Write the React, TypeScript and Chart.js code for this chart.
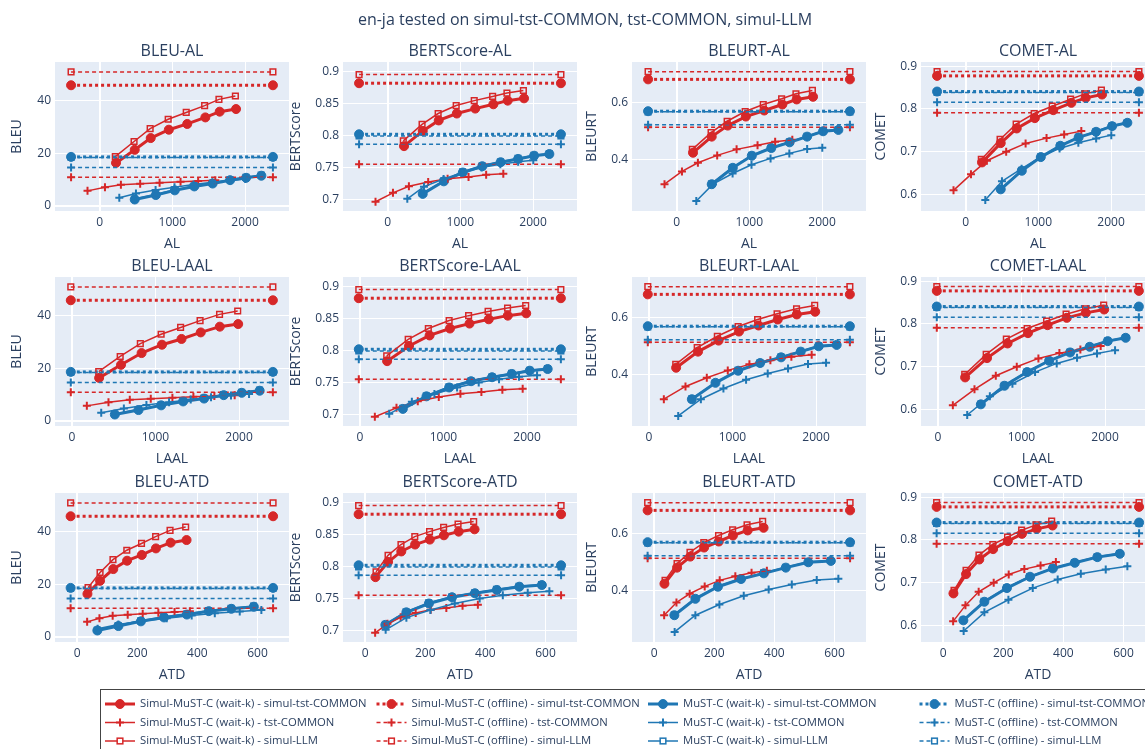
import React, { useEffect, useRef } from 'react';
import { Chart, registerables } from 'chart.js';

Chart.register(...registerables);

// ---------------- DATA ----------------
const MAIN_TITLE = 'en-ja tested on simul-tst-COMMON, tst-COMMON, simul-LLM';
const LATENCY_METRICS = ['AL', 'LAAL', 'ATD'];
const QUALITY_METRICS = ['BLEU', 'BERTScore', 'BLEURT', 'COMET'];

// Simul-MuST-C (wait-k) tested on simul-tst-COMMON
const SIMUL_WAITK_SIMULTST_AL = [226, 483, 703, 952, 1205, 1454, 1651, 1876];
const SIMUL_WAITK_SIMULTST_LAAL = [326, 588, 834, 1078, 1312, 1542, 1770, 1990];
const SIMUL_WAITK_SIMULTST_ATD = [34, 76, 120, 166, 215, 262, 311, 364];
const SIMUL_WAITK_SIMULTST_BLEU = [16.3, 21.3, 25.8, 29.0, 31.2, 33.7, 35.9, 36.9];
const SIMUL_WAITK_SIMULTST_BERTSCORE = [0.7832, 0.8069, 0.8233, 0.8341, 0.8418, 0.8485, 0.8542, 0.8578];
const SIMUL_WAITK_SIMULTST_BLEURT = [0.4226, 0.4798, 0.519, 0.5512, 0.5726, 0.594, 0.6119, 0.6214];
const SIMUL_WAITK_SIMULTST_COMET = [0.6748, 0.72, 0.7543, 0.7785, 0.7972, 0.8143, 0.826, 0.8338];

// Simul-MuST-C (wait-k) tested on tst-COMMON
const SIMUL_WAITK_TST_AL = [-166, 74, 293, 558, 825, 1113, 1355, 1591];
const SIMUL_WAITK_TST_LAAL = [179, 438, 693, 944, 1203, 1454, 1705, 1948];
const SIMUL_WAITK_TST_ATD = [33, 74, 118, 168, 218, 270, 324, 375];
const SIMUL_WAITK_TST_BLEU = [5.6, 7.0, 7.9, 8.3, 8.7, 9.1, 9.4, 9.7];
const SIMUL_WAITK_TST_BERTSCORE = [0.6964, 0.7103, 0.7206, 0.7272, 0.7324, 0.7349, 0.7385, 0.7401];
const SIMUL_WAITK_TST_BLEURT = [0.3107, 0.356, 0.3869, 0.4131, 0.4345, 0.4488, 0.4619, 0.469];
const SIMUL_WAITK_TST_COMET = [0.6094, 0.6468, 0.6787, 0.6998, 0.7193, 0.7317, 0.7403, 0.7481];

// Simul-MuST-C (wait-k) tested on simul-LLM
const SIMUL_WAITK_LLM_AL = [216, 474, 695, 943, 1191, 1444, 1641, 1867];
const SIMUL_WAITK_LLM_LAAL = [321, 578, 819, 1068, 1301, 1534, 1767, 1984];
const SIMUL_WAITK_LLM_ATD = [36, 76, 119, 165, 214, 261, 309, 361];
const SIMUL_WAITK_LLM_BLEU = [18.7, 24.5, 29.4, 33.0, 35.6, 38.2, 40.6, 41.9];
const SIMUL_WAITK_LLM_BERTSCORE = [0.7915, 0.8172, 0.8341, 0.8465, 0.8542, 0.8608, 0.866, 0.8701];
const SIMUL_WAITK_LLM_BLEURT = [0.4345, 0.494, 0.5345, 0.569, 0.594, 0.6143, 0.6321, 0.644];
const SIMUL_WAITK_LLM_COMET = [0.6818, 0.7286, 0.7645, 0.7894, 0.8065, 0.8229, 0.8354, 0.844];

// MuST-C (wait-k) tested on simul-tst-COMMON
const MUSTC_WAITK_SIMULTST_AL = [483, 773, 1034, 1302, 1554, 1794, 2014, 2224];
const MUSTC_WAITK_SIMULTST_LAAL = [514, 797, 1068, 1331, 1582, 1817, 2032, 2247];
const MUSTC_WAITK_SIMULTST_ATD = [67, 137, 212, 289, 365, 438, 513, 588];
const MUSTC_WAITK_SIMULTST_BLEU = [2.3, 4.0, 5.8, 7.3, 8.4, 9.7, 10.6, 11.4];
const MUSTC_WAITK_SIMULTST_BERTSCORE = [0.7087, 0.7283, 0.7421, 0.7519, 0.7581, 0.7632, 0.7683, 0.7709];
const MUSTC_WAITK_SIMULTST_BLEURT = [0.3107, 0.369, 0.4119, 0.4393, 0.4595, 0.4798, 0.4988, 0.5036];
const MUSTC_WAITK_SIMULTST_COMET = [0.6117, 0.6553, 0.6873, 0.7138, 0.7333, 0.7465, 0.7598, 0.7676];

// MuST-C (wait-k) tested on tst-COMMON
const MUSTC_WAITK_TST_AL = [271, 500, 770, 1030, 1292, 1550, 1795, 2003];
const MUSTC_WAITK_TST_LAAL = [351, 622, 892, 1163, 1422, 1665, 1904, 2120];
const MUSTC_WAITK_TST_ATD = [68, 137, 217, 298, 381, 458, 541, 613];
const MUSTC_WAITK_TST_BLEU = [3.0, 4.6, 5.9, 7.0, 8.0, 8.9, 9.6, 10.1];
const MUSTC_WAITK_TST_BERTSCORE = [0.701, 0.72, 0.732, 0.742, 0.75, 0.755, 0.759, 0.761];
const MUSTC_WAITK_TST_BLEURT = [0.2512, 0.3107, 0.3488, 0.3798, 0.4024, 0.4202, 0.4357, 0.4405];
const MUSTC_WAITK_TST_COMET = [0.5868, 0.6304, 0.66, 0.6873, 0.7076, 0.7208, 0.7309, 0.7387];

// MuST-C (wait-k) tested on simul-LLM
const MUSTC_WAITK_LLM_AL = [480, 770, 1031, 1299, 1552, 1792, 2012, 2222];
const MUSTC_WAITK_LLM_LAAL = [512, 795, 1066, 1329, 1580, 1815, 2030, 2245];
const MUSTC_WAITK_LLM_ATD = [67, 136, 211, 288, 364, 437, 512, 587];
const MUSTC_WAITK_LLM_BLEU = [2.5, 4.2, 6.0, 7.5, 8.6, 9.9, 10.8, 11.6];
const MUSTC_WAITK_LLM_BERTSCORE = [0.7095, 0.729, 0.743, 0.7525, 0.7588, 0.764, 0.769, 0.7715];
const MUSTC_WAITK_LLM_BLEURT = [0.312, 0.37, 0.413, 0.44, 0.461, 0.481, 0.5, 0.505];
const MUSTC_WAITK_LLM_COMET = [0.6125, 0.656, 0.688, 0.7145, 0.734, 0.7472, 0.7605, 0.7683];

// Offline scores: [simul-tst-COMMON, tst-COMMON, simul-LLM]
const SIMUL_OFFLINE_BLEU = [46.0, 10.8, 51.1];
const SIMUL_OFFLINE_BERTSCORE = [0.8814, 0.755, 0.8948];
const SIMUL_OFFLINE_BLEURT = [0.6833, 0.513, 0.7107];
const SIMUL_OFFLINE_COMET = [0.8775, 0.791, 0.8876];
const MUSTC_OFFLINE_BLEU = [18.6, 14.5, 18.4];
const MUSTC_OFFLINE_BERTSCORE = [0.8017, 0.7863, 0.799];
const MUSTC_OFFLINE_BLEURT = [0.5702, 0.522, 0.568];
const MUSTC_OFFLINE_COMET = [0.8408, 0.8159, 0.8385];

// Offline reference lines span these latency values
const OFFLINE_X_AL = [-392, 2383];
const OFFLINE_X_LAAL = [-13, 2405];
const OFFLINE_X_ATD = [-22, 652];

// Axis ranges and ticks
const AL_RANGE = [-613, 2604];
const LAAL_RANGE = [-202, 2598];
const ATD_RANGE = [-74, 705];
const BLEU_RANGE = [-2.1, 54.9];
const BERTSCORE_RANGE = [0.682, 0.9145];
const BLEURT_RANGE = [0.2155, 0.745];
const COMET_RANGE = [0.561, 0.91];
const AL_TICKS = [0, 1000, 2000];
const LAAL_TICKS = [0, 1000, 2000];
const ATD_TICKS = [0, 200, 400, 600];
const BLEU_TICKS = [0, 20, 40];
const BERTSCORE_TICKS = [0.7, 0.75, 0.8, 0.85, 0.9];
const BLEURT_TICKS = [0.4, 0.6];
const COMET_TICKS = [0.6, 0.7, 0.8, 0.9];

// ---------------- TABLES ----------------
const WAITK: any = {
  simul: {
    simultst: { AL: SIMUL_WAITK_SIMULTST_AL, LAAL: SIMUL_WAITK_SIMULTST_LAAL, ATD: SIMUL_WAITK_SIMULTST_ATD, BLEU: SIMUL_WAITK_SIMULTST_BLEU, BERTScore: SIMUL_WAITK_SIMULTST_BERTSCORE, BLEURT: SIMUL_WAITK_SIMULTST_BLEURT, COMET: SIMUL_WAITK_SIMULTST_COMET },
    tst: { AL: SIMUL_WAITK_TST_AL, LAAL: SIMUL_WAITK_TST_LAAL, ATD: SIMUL_WAITK_TST_ATD, BLEU: SIMUL_WAITK_TST_BLEU, BERTScore: SIMUL_WAITK_TST_BERTSCORE, BLEURT: SIMUL_WAITK_TST_BLEURT, COMET: SIMUL_WAITK_TST_COMET },
    llm: { AL: SIMUL_WAITK_LLM_AL, LAAL: SIMUL_WAITK_LLM_LAAL, ATD: SIMUL_WAITK_LLM_ATD, BLEU: SIMUL_WAITK_LLM_BLEU, BERTScore: SIMUL_WAITK_LLM_BERTSCORE, BLEURT: SIMUL_WAITK_LLM_BLEURT, COMET: SIMUL_WAITK_LLM_COMET },
  },
  mustc: {
    simultst: { AL: MUSTC_WAITK_SIMULTST_AL, LAAL: MUSTC_WAITK_SIMULTST_LAAL, ATD: MUSTC_WAITK_SIMULTST_ATD, BLEU: MUSTC_WAITK_SIMULTST_BLEU, BERTScore: MUSTC_WAITK_SIMULTST_BERTSCORE, BLEURT: MUSTC_WAITK_SIMULTST_BLEURT, COMET: MUSTC_WAITK_SIMULTST_COMET },
    tst: { AL: MUSTC_WAITK_TST_AL, LAAL: MUSTC_WAITK_TST_LAAL, ATD: MUSTC_WAITK_TST_ATD, BLEU: MUSTC_WAITK_TST_BLEU, BERTScore: MUSTC_WAITK_TST_BERTSCORE, BLEURT: MUSTC_WAITK_TST_BLEURT, COMET: MUSTC_WAITK_TST_COMET },
    llm: { AL: MUSTC_WAITK_LLM_AL, LAAL: MUSTC_WAITK_LLM_LAAL, ATD: MUSTC_WAITK_LLM_ATD, BLEU: MUSTC_WAITK_LLM_BLEU, BERTScore: MUSTC_WAITK_LLM_BERTSCORE, BLEURT: MUSTC_WAITK_LLM_BLEURT, COMET: MUSTC_WAITK_LLM_COMET },
  },
};
const OFFLINE: any = {
  simul: { BLEU: SIMUL_OFFLINE_BLEU, BERTScore: SIMUL_OFFLINE_BERTSCORE, BLEURT: SIMUL_OFFLINE_BLEURT, COMET: SIMUL_OFFLINE_COMET },
  mustc: { BLEU: MUSTC_OFFLINE_BLEU, BERTScore: MUSTC_OFFLINE_BERTSCORE, BLEURT: MUSTC_OFFLINE_BLEURT, COMET: MUSTC_OFFLINE_COMET },
};
const OFFLINE_X: any = { AL: OFFLINE_X_AL, LAAL: OFFLINE_X_LAAL, ATD: OFFLINE_X_ATD };
const RANGES: any = { AL: AL_RANGE, LAAL: LAAL_RANGE, ATD: ATD_RANGE, BLEU: BLEU_RANGE, BERTScore: BERTSCORE_RANGE, BLEURT: BLEURT_RANGE, COMET: COMET_RANGE };
const TICKS: any = { AL: AL_TICKS, LAAL: LAAL_TICKS, ATD: ATD_TICKS, BLEU: BLEU_TICKS, BERTScore: BERTSCORE_TICKS, BLEURT: BLEURT_TICKS, COMET: COMET_TICKS };
const TEST_INDEX: any = { simultst: 0, tst: 1, llm: 2 };
const SYS_NAME: any = { simul: 'Simul-MuST-C', mustc: 'MuST-C' };
const TEST_NAME: any = { simultst: 'simul-tst-COMMON', tst: 'tst-COMMON', llm: 'simul-LLM' };

// trace order (as in the legend, row by row)
const SERIES: any[] = [];
['simultst', 'tst', 'llm'].forEach((test) => {
  [['simul', 'waitk'], ['simul', 'offline'], ['mustc', 'waitk'], ['mustc', 'offline']].forEach(([sys, mode]) => {
    SERIES.push({ sys, mode, test, label: `${SYS_NAME[sys]} (${mode === 'waitk' ? 'wait-k' : 'offline'}) - ${TEST_NAME[test]}` });
  });
});

// ---------------- STYLE ----------------
const FONT = "'Open Sans', verdana, arial, sans-serif";
const TEXT = '#2a3f5f';
const RED = '#d62728';
const BLUE = '#1f77b4';
const PLOT_BG = '#e5ecf6';

const PLOT_LEFT = [55, 343, 632, 921];
const PLOT_TOP = [62, 277, 493];
const PLOT_W = 234;
const PLOT_H = 149;
const Y_AREA = 55;
const TOP_AREA = 40;
const X_AREA = 45;
const YTITLE_PAD = [8.6, 0, 6.6, 6.6];

function styleFor(s: any) {
  const color = s.sys === 'simul' ? RED : BLUE;
  const thick = s.test === 'simultst';
  const st: any = {
    borderColor: color,
    backgroundColor: color,
    borderWidth: thick ? 3 : 1.5,
    borderDash: s.mode === 'offline' ? (thick ? [3, 3] : [4, 3]) : [],
    tension: 0,
    fill: false,
    showLine: true,
    pointBorderColor: color,
  };
  if (s.test === 'simultst') {
    Object.assign(st, { pointStyle: 'circle', pointRadius: 4.5, pointBorderWidth: 1, pointBackgroundColor: color });
  } else if (s.test === 'tst') {
    Object.assign(st, { pointStyle: 'cross', pointRadius: 4, pointBorderWidth: 2, pointBackgroundColor: color });
  } else {
    Object.assign(st, { pointStyle: 'rect', pointRadius: 4, pointBorderWidth: 1.5, pointBackgroundColor: 'rgba(0,0,0,0)' });
  }
  st.pointHoverRadius = st.pointRadius;
  return st;
}

const bgPlugin = {
  id: 'plotBg',
  beforeDraw(chart: any) {
    const { ctx, chartArea: a } = chart;
    ctx.save();
    ctx.fillStyle = PLOT_BG;
    ctx.fillRect(a.left, a.top, a.right - a.left, a.bottom - a.top);
    ctx.restore();
  },
};

function axisOptions(metric: string, isX: boolean, col: number) {
  const [min, max] = RANGES[metric];
  const ticks = TICKS[metric];
  return {
    type: 'linear',
    min,
    max,
    afterBuildTicks: (scale: any) => {
      scale.ticks = ticks.map((v: number) => ({ value: v }));
    },
    afterFit: (scale: any) => {
      if (isX) scale.height = X_AREA;
      else scale.width = Y_AREA;
    },
    grid: {
      color: '#ffffff',
      lineWidth: (ctx: any) => (ctx.tick && ctx.tick.value === 0 ? 2 : 1),
      drawTicks: false,
    },
    border: { display: false },
    ticks: {
      color: TEXT,
      font: { family: FONT, size: 12 },
      padding: 4,
      maxRotation: 0,
      autoSkip: false,
      callback: (v: any) => String(v),
    },
    title: {
      display: true,
      text: metric,
      color: TEXT,
      font: { family: FONT, size: 14, weight: 'normal' },
      padding: isX ? { top: 0, bottom: 3.6 } : { top: YTITLE_PAD[col], bottom: 0 },
    },
  };
}

function buildConfig(r: number, c: number): any {
  const lat = LATENCY_METRICS[r];
  const q = QUALITY_METRICS[c];
  const datasets = SERIES.map((s, i) => {
    let pts: any[];
    if (s.mode === 'waitk') {
      const xs = WAITK[s.sys][s.test][lat];
      const ys = WAITK[s.sys][s.test][q];
      pts = xs.map((x: number, k: number) => ({ x, y: ys[k] }));
    } else {
      const v = OFFLINE[s.sys][q][TEST_INDEX[s.test]];
      pts = OFFLINE_X[lat].map((x: number) => ({ x, y: v }));
    }
    return { label: s.label, data: pts, order: -i, ...styleFor(s) };
  });
  return {
    type: 'line',
    data: { datasets },
    options: {
      animation: false,
      responsive: false,
      maintainAspectRatio: false,
      events: [],
      layout: { padding: 0, autoPadding: false },
      plugins: {
        legend: { display: false },
        tooltip: { enabled: false },
        title: {
          display: true,
          fullSize: false,
          text: `${q}-${lat}`,
          color: TEXT,
          font: { family: FONT, size: 16, weight: 'normal' },
          padding: { top: 19.9, bottom: 0.9 },
        },
      },
      scales: {
        x: axisOptions(lat, true, c),
        y: axisOptions(q, false, c),
      },
    },
    plugins: [bgPlugin],
  };
}

// ---------------- LEGEND (drawn on the frame chart) ----------------
const LEGEND_X0 = 100;
const LEGEND_COL_W = 271.5;
const LEGEND_ROW_Y = [704, 722.5, 741];

function drawMarker(ctx: any, s: any, x: number, y: number) {
  const st = styleFor(s);
  ctx.save();
  ctx.setLineDash([]);
  ctx.strokeStyle = st.pointBorderColor;
  ctx.fillStyle = st.pointBackgroundColor;
  ctx.lineWidth = st.pointBorderWidth;
  const r = st.pointRadius;
  if (st.pointStyle === 'circle') {
    ctx.beginPath();
    ctx.arc(x, y, r, 0, Math.PI * 2);
    ctx.fill();
    ctx.stroke();
  } else if (st.pointStyle === 'cross') {
    ctx.beginPath();
    ctx.moveTo(x - r, y);
    ctx.lineTo(x + r, y);
    ctx.moveTo(x, y - r);
    ctx.lineTo(x, y + r);
    ctx.stroke();
  } else {
    const h = r * Math.SQRT1_2;
    ctx.fillStyle = '#ffffff';
    ctx.fillRect(x - h, y - h, 2 * h, 2 * h);
    ctx.strokeRect(x - h, y - h, 2 * h, 2 * h);
  }
  ctx.restore();
}

const legendPlugin = {
  id: 'gridLegend',
  afterDraw(chart: any) {
    const ctx = chart.ctx;
    ctx.save();
    ctx.strokeStyle = '#444444';
    ctx.lineWidth = 1;
    ctx.strokeRect(100.5, 689.5, 1200, 80);
    SERIES.forEach((s, i) => {
      const col = i % 4;
      const row = Math.floor(i / 4);
      const x0 = LEGEND_X0 + col * LEGEND_COL_W;
      const y = LEGEND_ROW_Y[row];
      const st = styleFor(s);
      ctx.save();
      ctx.strokeStyle = st.borderColor;
      ctx.lineWidth = st.borderWidth;
      ctx.setLineDash(st.borderDash);
      ctx.beginPath();
      ctx.moveTo(x0 + 5, y);
      ctx.lineTo(x0 + 35, y);
      ctx.stroke();
      ctx.restore();
      drawMarker(ctx, s, x0 + 20, y);
      ctx.fillStyle = TEXT;
      ctx.font = `11.3px ${FONT}`;
      ctx.textBaseline = 'middle';
      ctx.textAlign = 'left';
      ctx.fillText(s.label, x0 + 40, y);
    });
    ctx.restore();
  },
};

function frameConfig(): any {
  return {
    type: 'line',
    data: { datasets: [] },
    options: {
      animation: false,
      responsive: false,
      maintainAspectRatio: false,
      events: [],
      layout: { padding: { left: 25, right: 0, top: 0, bottom: 0 } },
      scales: { x: { display: false }, y: { display: false } },
      plugins: {
        legend: { display: false },
        tooltip: { enabled: false },
        title: {
          display: true,
          text: MAIN_TITLE,
          color: TEXT,
          font: { family: FONT, size: 16, weight: 'normal' },
          padding: { top: 10.4, bottom: 0 },
        },
      },
    },
    plugins: [legendPlugin],
  };
}

// ---------------- COMPONENTS ----------------
function Frame() {
  const ref = useRef<HTMLCanvasElement>(null);
  useEffect(() => {
    const chart = new Chart(ref.current as HTMLCanvasElement, frameConfig());
    return () => chart.destroy();
  }, []);
  return (
    <canvas ref={ref} width={1145} height={749}
      style={{ position: 'absolute', left: 0, top: 0, width: 1145, height: 749 }} />
  );
}

function SubPlot({ r, c }: { r: number; c: number }) {
  const ref = useRef<HTMLCanvasElement>(null);
  const w = Y_AREA + PLOT_W;
  const h = TOP_AREA + PLOT_H + X_AREA;
  useEffect(() => {
    const chart = new Chart(ref.current as HTMLCanvasElement, buildConfig(r, c));
    return () => chart.destroy();
  }, [r, c]);
  return (
    <canvas ref={ref} width={w} height={h}
      style={{ position: 'absolute', left: PLOT_LEFT[c] - Y_AREA, top: PLOT_TOP[r] - TOP_AREA, width: w, height: h }} />
  );
}

export default function App() {
  const cells: any[] = [];
  for (let r = 0; r < 3; r++) for (let c = 0; c < 4; c++) cells.push(<SubPlot key={`${r}-${c}`} r={r} c={c} />);
  return (
    <div style={{ position: 'fixed', left: 0, top: 0, width: 1145, height: 749, overflow: 'hidden', background: '#ffffff' }}>
      <Frame />
      {cells}
    </div>
  );
}
